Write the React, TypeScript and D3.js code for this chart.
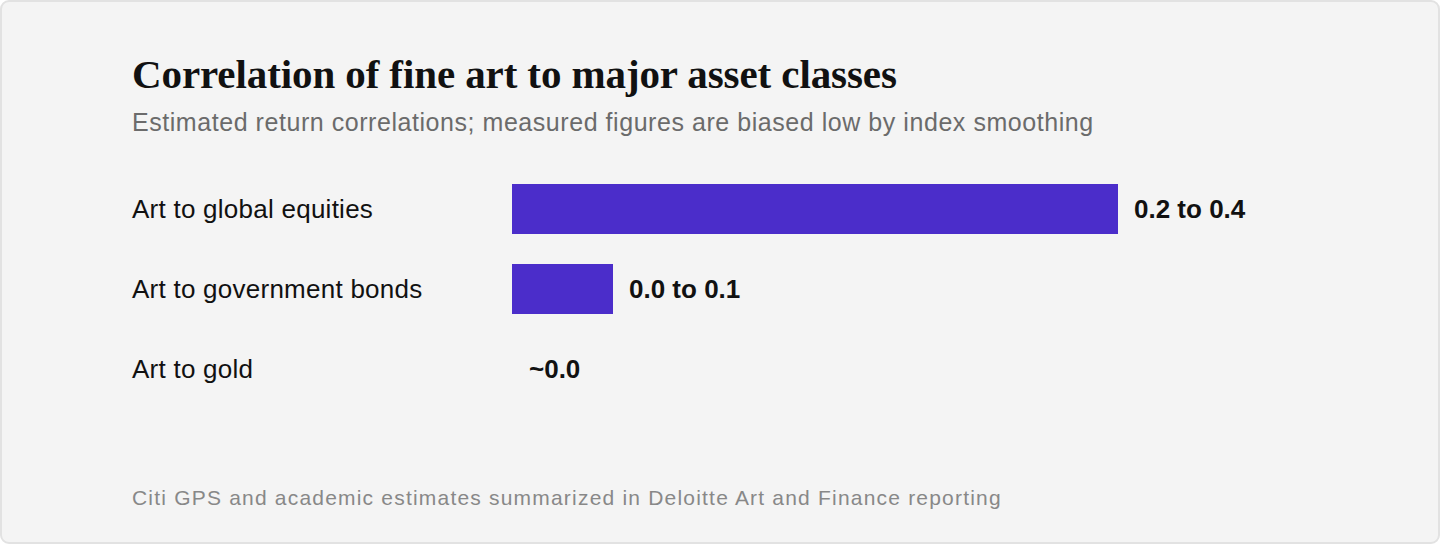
import { useEffect, useRef } from 'react';
import * as d3 from 'd3';

const categories = ['Art to global equities', 'Art to government bonds', 'Art to gold'];
// midpoint of each estimated correlation range
const values = [0.3, 0.05, 0];
const valueLabels = ['0.2 to 0.4', '0.0 to 0.1', '~0.0'];

const title = 'Correlation of fine art to major asset classes';
const subtitle = 'Estimated return correlations; measured figures are biased low by index smoothing';
const source = 'Citi GPS and academic estimates summarized in Deloitte Art and Finance reporting';

const App = () => {
  const svgRef = useRef<SVGSVGElement>(null);
  const width = 1440;
  const height = 544;

  useEffect(() => {
    if (!svgRef.current) return;
    d3.select(svgRef.current).selectAll('*').remove();

    const svg = d3.select(svgRef.current)
      .attr('width', width)
      .attr('height', height);

    const sans = "'Liberation Sans', Arial, Helvetica, sans-serif";

    // Card
    svg.append('rect')
      .attr('x', 1)
      .attr('y', 1)
      .attr('width', width - 2)
      .attr('height', height - 2)
      .attr('rx', 8)
      .attr('fill', '#f4f4f4')
      .attr('stroke', '#e2e2e2')
      .attr('stroke-width', 2);

    // Title
    svg.append('text')
      .attr('x', 132)
      .attr('y', 88)
      .attr('font-family', "'Liberation Serif', 'DejaVu Serif', serif")
      .attr('font-size', '41px')
      .attr('font-weight', '700')
      .attr('letter-spacing', '-0.1px')
      .attr('fill', '#111')
      .text(title);

    svg.append('text')
      .attr('x', 132)
      .attr('y', 131)
      .attr('font-family', sans)
      .attr('font-size', '25px')
      .attr('letter-spacing', '0.55px')
      .attr('fill', '#6b6b6b')
      .text(subtitle);

    const x = d3.scaleLinear().domain([0, 0.4]).range([512, 1320]);
    const y = d3.scaleBand()
      .domain(categories)
      .range([169, 409])
      .paddingInner(0.375)
      .paddingOuter(0.1875);

    const rows = svg.append('g')
      .selectAll('g')
      .data(categories)
      .join('g');

    rows.append('text')
      .attr('x', 132)
      .attr('y', d => (y(d) || 0) + y.bandwidth() / 2)
      .attr('dy', '0.35em')
      .attr('font-family', sans)
      .attr('font-size', '26px')
      .attr('letter-spacing', '0.25px')
      .attr('fill', '#111')
      .text(d => d);

    rows.append('rect')
      .attr('x', x(0))
      .attr('y', d => y(d) || 0)
      .attr('width', (_d, i) => x(values[i]) - x(0))
      .attr('height', y.bandwidth())
      .attr('fill', '#4b2dca');

    rows.append('text')
      .attr('x', (_d, i) => x(values[i]) + (values[i] > 0 ? 16 : 17))
      .attr('y', d => (y(d) || 0) + y.bandwidth() / 2)
      .attr('dy', '0.35em')
      .attr('font-family', sans)
      .attr('font-size', '26px')
      .attr('font-weight', '700')
      .attr('fill', '#111')
      .text((_d, i) => valueLabels[i]);

    // Source
    svg.append('text')
      .attr('x', 132)
      .attr('y', 505)
      .attr('font-family', sans)
      .attr('font-size', '21px')
      .attr('letter-spacing', '1.2px')
      .attr('fill', '#888')
      .text(source);
  }, []);

  return (
    <svg
      ref={svgRef}
      style={{ position: 'absolute', left: 0, top: 0, display: 'block' }}
    />
  );
};

export default App;
